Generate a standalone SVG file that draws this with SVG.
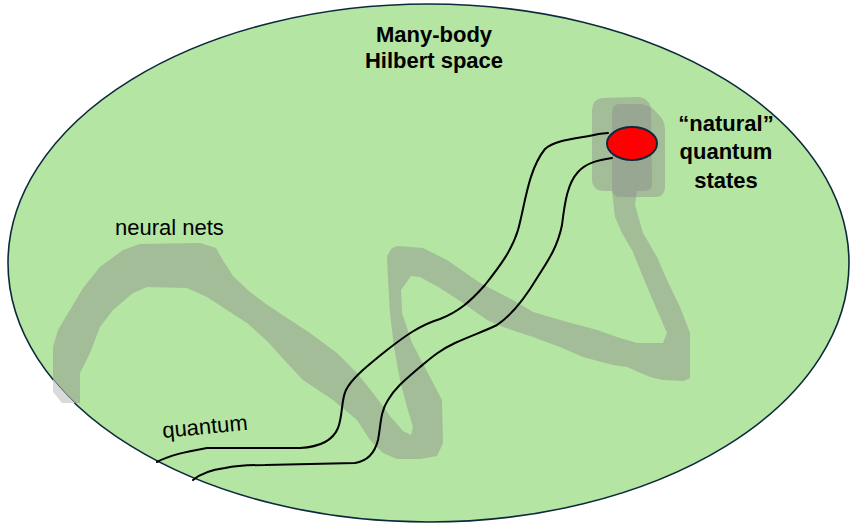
<svg xmlns="http://www.w3.org/2000/svg" width="850" height="523" viewBox="0 0 850 523">
<style>
.band{fill:#8c8c8c;fill-opacity:0.45;stroke:none}
.lbl{font-family:"Liberation Sans",Arial,sans-serif;font-size:22px;fill:#000}
.b{font-weight:bold;text-anchor:middle}
.wire{fill:none;stroke:#000;stroke-width:2;stroke-linecap:round;stroke-linejoin:round}
</style>
<defs>
<clipPath id="inside"><ellipse cx="428.5" cy="263" rx="420.5" ry="259"/></clipPath>
<mask id="outside"><rect width="850" height="523" fill="#fff"/><ellipse cx="428.5" cy="263" rx="420.5" ry="259" fill="#000"/></mask>
<path id="bandShape" d="M53,392 L53,347 L58,330 L70,310 L83,288 L100,267 L123,250 L140,244 L200,243 L216,248 L224,262 L233,276 L250,292 L266,304 L284,316 L310,333 L337,353 L357,373 L373,393 L390,416 L403,431 L411,435 L413,427 L407,407 L400,380 L394,347 L390,313 L388,280 L387,256 L392,248 L398,246 L423,248 L447,260 L480,283 L513,300 L533,312 L560,320 L597,330 L617,337 L637,343 L663,343 L667,333 L657,310 L643,277 L633,252 L622,233 L615,217 L612,191 L637,191 L635,205 L643,233 L657,257 L667,280 L680,307 L690,333 L690,378 L684,381 L663,380 L650,377 L627,367 L613,365 L583,357 L560,347 L533,337 L503,327 L487,320 L463,303 L440,288 L420,277 L411,276 L401,290 L402,313 L412,343 L430,377 L442,400 L443,443 L437,456 L420,459 L397,459 L383,453 L370,440 L357,420 L333,400 L303,380 L287,363 L267,341 L247,323 L227,310 L207,297 L187,288 L147,287 L133,293 L113,310 L100,327 L90,353 L80,373 L80,403 L62,403 Z"/>
</defs>
<rect width="850" height="523" fill="#ffffff"/>
<g id="hilbert-space">
<ellipse cx="428.5" cy="263" rx="420.5" ry="259" fill="#b4e5a2" stroke="#0d2a3c" stroke-width="1.6"/>
<text class="lbl b" x="434" y="42">Many-body</text>
<text class="lbl b" x="434" y="68">Hilbert space</text>
</g>
<g id="neural-nets">
<use href="#bandShape" class="band" clip-path="url(#inside)"/>
<use href="#bandShape" fill="#dadada" mask="url(#outside)"/>
<text class="lbl" x="115" y="235">neural nets</text>
</g>
<g id="target-region">
<path class="band" d="M602,98 L638,97 Q649,98 651,108 L652,184 Q652,191 644,191 L604,191 Q593,191 592,180 L592,110 Q593,99 602,98 Z"/>
<path class="band" d="M620,104 L642,104 Q652,106 658,114 Q665,120 665,130 L665,186 Q665,197 655,197 L620,197 Q612,197 612,188 L612,113 Q612,104 620,104 Z"/>
</g>
<g id="connectors">
<path class="wire" d="M157,462 C170,455 185,452 207,448 L300,448 C320,447 333,440 338,428 C343,415 341,400 346,390 C352,378 365,368 387,350 C405,336 420,325 440,319 C458,312 470,302 485,285 C500,266 512,250 518,230 C525,205 528,170 545,149 C553,142 565,140 583,137 C595,135 602,133 608,133"/>
<path class="wire" d="M193,480 C200,474 210,470 225,468 C240,465 250,465 265,465 L355,463 C368,461 375,452 378,440 C381,425 380,412 388,400 C395,388 405,380 420,367 C432,357 440,350 455,343 C470,336 485,331 497,325 C512,315 525,298 537,278 C550,258 558,245 562,225 C565,200 568,183 578,172 C586,163 598,160 612,158"/>
<text class="lbl" x="163" y="438" transform="rotate(-5.5 163 438)">quantum</text>
</g>
<g id="natural-states">
<ellipse cx="632" cy="143.5" rx="25" ry="16.5" fill="#ff0000" stroke="#0d2a3c" stroke-width="2"/>
<text class="lbl b" x="726" y="131">“natural”</text>
<text class="lbl b" x="726" y="159">quantum</text>
<text class="lbl b" x="726" y="188">states</text>
</g>
</svg>
